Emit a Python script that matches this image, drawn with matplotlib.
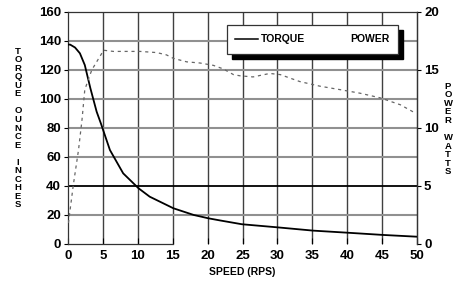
import matplotlib
matplotlib.use('Agg')
import matplotlib.pyplot as plt
from matplotlib.patches import Rectangle
from matplotlib.lines import Line2D

# Torque curve (oz-in)
torque_speed = [0, 0.3, 1, 1.7, 2.4, 3.2, 4.1, 4.7, 6.0, 7.9, 10.1, 11.7, 15.1, 18, 20.1,
                21.8, 24.9, 29.9, 35.1, 39.9, 45.2, 50]
torque = [137.5, 137.5, 135.5, 131.5, 123.4, 107.4, 91.2, 83.2, 64.8, 48.7, 38.4, 32.6,
          24.6, 20.0, 17.7, 16.2, 13.6, 11.5, 9.2, 7.8, 6.2, 5.0]

# Power curve (watts)
power_speed = [0.05, 0.76, 1.5, 2.0, 2.4, 3.4, 5.1, 6.5, 8.4, 10.3, 12.7, 14.1, 15.1, 17,
               18.9, 20.8, 22.2, 23.7, 24.6, 26.5, 28.9, 30.4, 33.2, 36.1, 39, 41.8, 44.7,
               47.6, 49.7]
power = [1.8, 5.1, 8.1, 10.7, 13.3, 15.0, 16.7, 16.6, 16.6, 16.6, 16.5, 16.3, 16.0, 15.7,
         15.6, 15.4, 15.1, 14.6, 14.5, 14.4, 14.7, 14.6, 14.0, 13.6, 13.3, 13.0, 12.6,
         12.0, 11.3]

x_ticks = [0, 5, 10, 15, 20, 25, 30, 35, 40, 45, 50]
y_ticks = [0, 20, 40, 60, 80, 100, 120, 140, 160]
y2_ticks = [0, 5, 10, 15, 20]

plt.rcParams['font.family'] = 'Liberation Sans'

fig = plt.figure(figsize=(4.66, 2.85), dpi=100)
ax = fig.add_axes([0.146, 0.144, 0.749, 0.814])

# Grid
for xv in x_ticks[1:-1]:
    ax.axvline(xv, color='#404040', lw=1.0, zorder=1)
for yv in y_ticks[1:-1]:
    if yv == 40:
        ax.axhline(yv, color='black', lw=1.3, zorder=1)
    else:
        ax.axhline(yv, color='#909090', lw=1.5, zorder=1)

ax.plot(torque_speed, torque, color='black', lw=1.3, zorder=3)
ax.set_xlim(0, 50)
ax.set_ylim(0, 160)
ax.set_xticks(x_ticks)
ax.set_yticks(y_ticks)
ax.tick_params(axis='x', direction='in', length=4, width=0.8, pad=4, labelsize=9.5)
ax.tick_params(axis='y', direction='out', length=3, width=0.8, pad=2, labelsize=9.5)
for lab in ax.get_xticklabels() + ax.get_yticklabels():
    lab.set_fontweight('bold')
ax.spines['bottom'].set_bounds(0, 15)
for s in ax.spines.values():
    s.set_color('#333333')
    s.set_linewidth(0.9)

ax2 = ax.twinx()
ax2.plot(power_speed, power, color='#666666', lw=0.9, linestyle=(0, (2.5, 3)), zorder=3)
ax2.set_ylim(0, 20)
ax2.set_yticks(y2_ticks)
ax2.tick_params(axis='y', direction='out', length=3, width=0.8, pad=2, labelsize=9.5)
for lab in ax2.get_yticklabels():
    lab.set_fontweight('bold')
for s in ax2.spines.values():
    s.set_visible(False)
ax2.spines['right'].set_visible(True)
ax2.spines['right'].set_color('#333333')
ax2.spines['right'].set_linewidth(0.9)

ax.set_xlabel('SPEED (RPS)', fontsize=7.5, fontweight='bold', labelpad=4)

# Stacked vertical axis titles
left_title = '\n'.join('TORQUE') + '\n\n' + '\n'.join('OUNCE') + '\n\n' + '\n'.join('INCHES')
right_title = '\n'.join('POWER') + '\n\n' + '\n'.join('WATTS')
fig.text(18 / 466, 1 - 128 / 285, left_title, fontsize=6.8, fontweight='bold',
         ha='center', va='center', linespacing=0.93, multialignment='center')
fig.text(448 / 466, 1 - 129 / 285, right_title, fontsize=6.8, fontweight='bold',
         ha='center', va='center', linespacing=0.93, multialignment='center')

# Legend box with shadow
bx0, by0, bw, bh = 227 / 466, 1 - 54 / 285, 171 / 466, 29 / 285
fig.add_artist(Rectangle((bx0 + 5 / 466, by0 - 5 / 285), bw, bh, transform=fig.transFigure,
                         facecolor='black', edgecolor='black', zorder=5))
fig.add_artist(Rectangle((bx0, by0), bw, bh, transform=fig.transFigure,
                         facecolor='white', edgecolor='#333333', lw=0.9, zorder=6))
fig.add_artist(Line2D([235 / 466, 258 / 466], [1 - 39 / 285, 1 - 39 / 285],
                      transform=fig.transFigure, color='black', lw=1.1, zorder=7))
fig.text(261 / 466, 1 - 39 / 285, 'TORQUE', fontsize=7.5, fontweight='bold', ha='left',
         va='center', zorder=7)
fig.text(350 / 466, 1 - 39 / 285, 'POWER', fontsize=7.5, fontweight='bold', ha='left',
         va='center', zorder=7)

fig.savefig('out.png', dpi=100)
